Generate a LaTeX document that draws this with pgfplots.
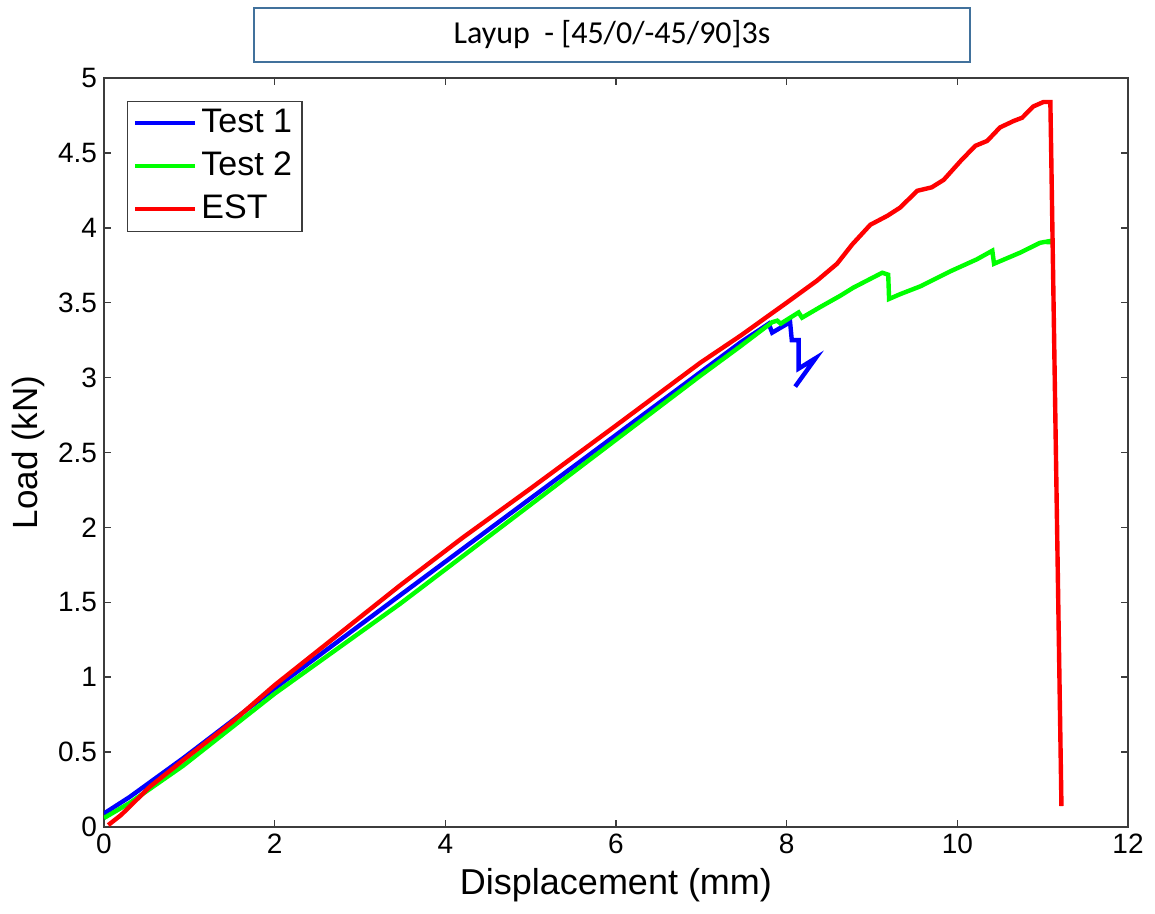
\documentclass[border=0pt]{standalone}
\usepackage{fontspec}
\setmainfont{Liberation Sans}
\newfontfamily\carlito{Carlito}
\usepackage{pgfplots}
\pgfplotsset{compat=1.18}
\definecolor{boxblue}{RGB}{65,113,156}
\definecolor{axgray}{RGB}{60,60,60}
\begin{document}
\begin{tikzpicture}
\path[use as bounding box] (-52pt,-43.5pt) rectangle (525.5pt,413.5pt);
\begin{axis}[
  at={(0,0)}, anchor=south west,
  scale only axis, width=512pt, height=374.5pt,
  xmin=0, xmax=12, ymin=0, ymax=5,
  xtick={0,2,4,6,8,10,12},
  ytick={0,0.5,1,1.5,2,2.5,3,3.5,4,4.5,5},
  /pgf/number format/assume math mode=true,
  tick label style={font=\fontsize{14}{16}\selectfont},
  axis line style={axgray, line width=0.75pt},
  tick style={axgray, line width=0.75pt},
  major tick length=3.5pt,
  tick align=inside,
  xlabel={Displacement (mm)},
  ylabel={Load (kN)},
  every axis x label/.style={at={(axis description cs:0.5,0)}, yshift=-29pt, anchor=center, font=\fontsize{18}{21}\selectfont},
  every axis y label/.style={at={(axis description cs:0,0.5)}, xshift=-38pt, rotate=90, anchor=center, font=\fontsize{17.5}{20}\selectfont},
  legend style={at={(axis description cs:0,1)}, anchor=north west, xshift=11.35pt, yshift=-11.35pt,
    draw=axgray, line width=0.75pt, font=\fontsize{17}{20}\selectfont,
    inner xsep=3pt, inner ysep=1pt, row sep=1.5pt,
    nodes={inner sep=2pt, text height=12.5pt, text depth=3.5pt}},
  legend cell align=left,
  legend image code/.code={\draw[#1, line width=2pt] (0pt,0pt) -- (30pt,0pt);},
]
\addplot[blue, line width=2.2pt] coordinates {
(0.00,0.09) (0.30,0.20) (0.93,0.46) (2.00,0.925) (3.47,1.547) (5.00,2.194)
(6.00,2.617) (6.99,3.036) (7.46,3.235) (7.79,3.36) (7.83,3.30) (8.04,3.37)
(8.06,3.25) (8.14,3.25) (8.14,3.06) (8.34,3.13) (8.10,2.94)
};
\addlegendentry{Test 1}
\addplot[green, line width=2.2pt] coordinates {
(0.00,0.06) (0.30,0.16) (0.93,0.41) (2.00,0.89) (3.47,1.49) (5.00,2.152)
(6.00,2.585) (6.99,3.013) (7.46,3.21) (7.83,3.37) (7.89,3.38) (7.93,3.36)
(8.14,3.435) (8.18,3.40) (8.39,3.47) (8.63,3.547) (8.78,3.60) (9.12,3.70)
(9.19,3.687) (9.20,3.525) (9.33,3.557) (9.57,3.61) (9.92,3.71) (10.23,3.79)
(10.41,3.847) (10.43,3.76) (10.74,3.835) (10.97,3.90) (11.07,3.91) (11.07,3.89)
};
\addlegendentry{Test 2}
\addplot[red, line width=2.2pt] coordinates {
(0.05,0.013) (0.20,0.08) (0.54,0.27) (0.93,0.447) (1.50,0.70) (2.00,0.947)
(2.70,1.264) (3.47,1.613) (4.20,1.93) (5.00,2.26) (6.00,2.68) (6.99,3.10)
(7.46,3.28) (8.00,3.50) (8.355,3.647) (8.59,3.76) (8.77,3.89) (8.98,4.02)
(9.18,4.08) (9.33,4.135) (9.53,4.247) (9.70,4.27) (9.84,4.32) (10.04,4.447)
(10.21,4.547) (10.35,4.58) (10.50,4.67) (10.66,4.713) (10.76,4.735)
(10.89,4.81) (11.01,4.84) (11.09,4.84) (11.10,4.50) (11.22,0.14)
};
\addlegendentry{EST}
\end{axis}
\node[draw=boxblue, line width=0.75pt, minimum width=358pt, minimum height=27pt,
  inner sep=0pt, font=\carlito\fontsize{16}{19}\selectfont] at (254pt,396pt)
  {Layup\ \ - [45/0/-45/90]3s};
\end{tikzpicture}
\end{document}
